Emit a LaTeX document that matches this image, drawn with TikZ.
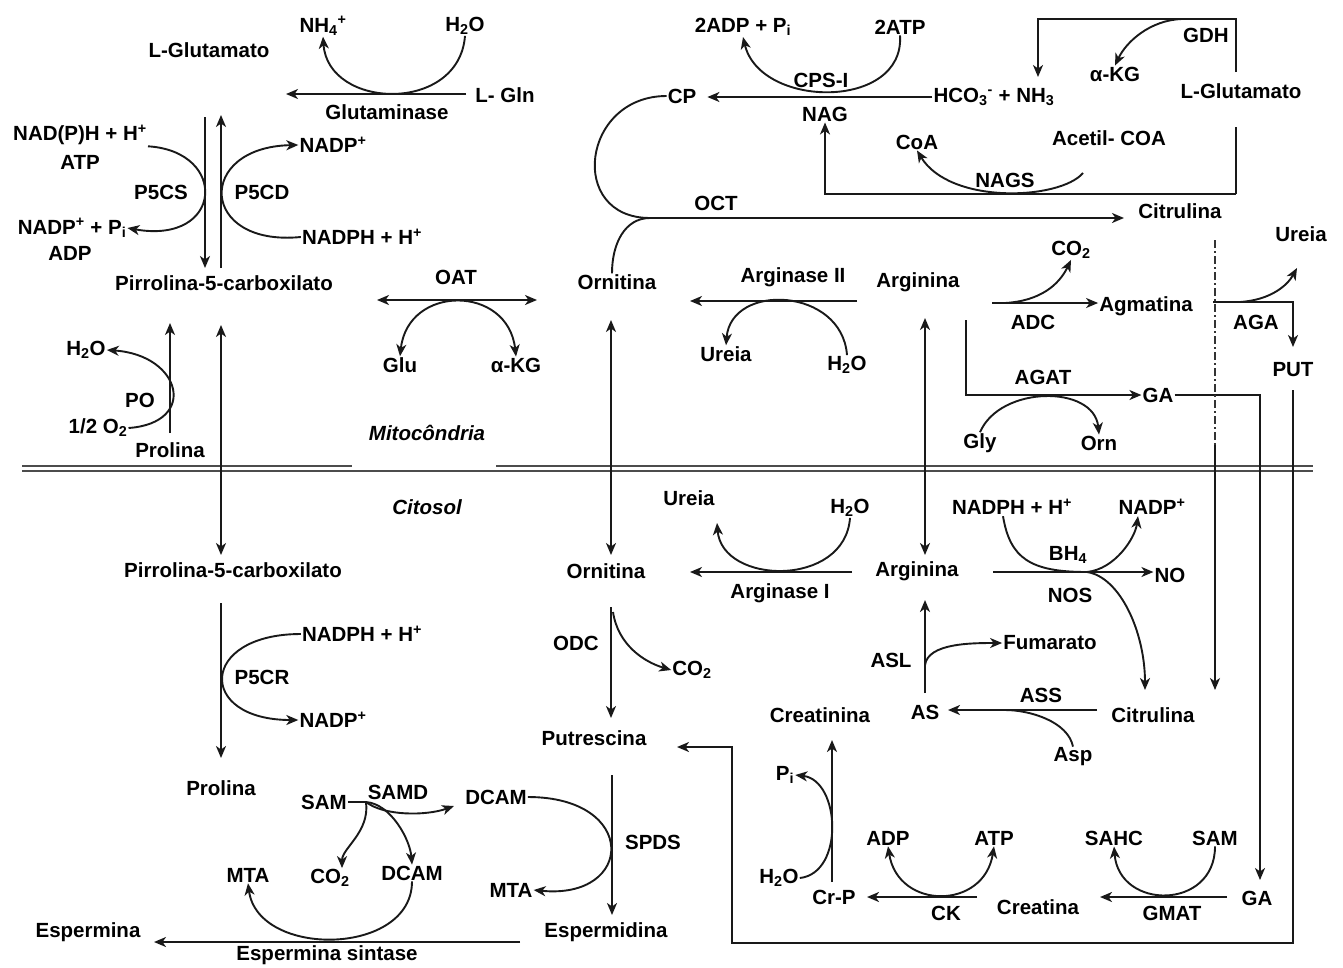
\documentclass[tikz,border=0pt]{standalone}
\usepackage{fontspec}
\setmainfont{Liberation Sans}
\usetikzlibrary{arrows.meta}
\newcommand{\dfont}{\bfseries\fontsize{20.5}{24}\selectfont}

\begin{document}
\begin{tikzpicture}[x=1pt,y=-1pt,
  met/.style={font=\dfont,inner sep=1pt},
  cmp/.style={font={\dfont\itshape},inner sep=1pt},
  ln/.style={line width=1.9pt,black!90},
  arr/.style={ln,-{Stealth[length=12pt,width=10pt,inset=3.5pt]}},
  darr/.style={ln,{Stealth[length=12pt,width=10pt,inset=3.5pt]}-{Stealth[length=12pt,width=10pt,inset=3.5pt]}}
]
  \useasboundingbox (0,0) rectangle (1343,967);

  % membrana
  \draw[line width=1.6pt,black!70] (22,466) -- (352,466) (496,466) -- (1313,466);
  \draw[line width=1.6pt,black!70] (22,471) -- (1313,471);

  % pontos livres
  \coordinate (glnS) at (466,94);      \coordinate (gluEnd) at (286,94);
  \coordinate (p5csTop) at (205,117);  \coordinate (p5csBot) at (205,268);
  \coordinate (p5cdBot) at (221,268);  \coordinate (p5cdTop) at (221,115);
  \coordinate (oatL) at (377,300);     \coordinate (oatR) at (537,300);
  \coordinate (poBot) at (170,433);    \coordinate (poTop) at (170,323);
  \coordinate (p5cTop) at (221,325);   \coordinate (p5cBot) at (221,555);
  \coordinate (octJ) at (650,218);     \coordinate (citArr) at (1124,218);
  \coordinate (boxBR) at (1236,194);   \coordinate (boxR1) at (1236,127);
  \coordinate (boxR2) at (1236,72);    \coordinate (boxTL) at (1038,19);
  \coordinate (hcoArr) at (1038,77);   \coordinate (gdhJ) at (1182,19);
  \coordinate (nagsJ) at (1083,173);
  \coordinate (a2R) at (857,301);      \coordinate (a2L) at (690,301);
  \coordinate (ornUp) at (611,320);    \coordinate (ornDn) at (611,555);
  \coordinate (argUp) at (925,318);    \coordinate (argDn) at (925,555);
  \coordinate (adcS) at (992,303);     \coordinate (adcJ) at (1005,303);
  \coordinate (agatS) at (966,320);
  \coordinate (agaS) at (1213,302);    \coordinate (agaJ) at (1240,302);
  \coordinate (agaTip) at (1297,268);  \coordinate (putArr) at (1293,347);
  \coordinate (gaArr) at (1260,880);
  \coordinate (citDash) at (1215,240); \coordinate (citMid) at (1215,445);
  \coordinate (citEnd) at (1215,690);
  \coordinate (putTop) at (1293,390);  \coordinate (boxBL) at (732,943);
  \coordinate (putrArr) at (677,747);
  \coordinate (p5crTop) at (221,603);  \coordinate (p5crBot) at (221,758);
  \coordinate (a1R) at (852,572);      \coordinate (a1L) at (690,572);
  \coordinate (ureaTip) at (717,523);
  \coordinate (odcTop) at (611,607);   \coordinate (odcBot) at (611,718);
  \coordinate (odcJ) at (613,612);
  \coordinate (nosS) at (993,572);     \coordinate (nosJ) at (1087,572);
  \coordinate (citTip) at (1145,690);
  \coordinate (aslBot) at (925,693);   \coordinate (aslTop) at (925,600);
  \coordinate (aslJ) at (925,665);
  \coordinate (assR) at (1097,710);    \coordinate (assL) at (948,710);
  \coordinate (assJ) at (1005,710);
  \coordinate (crBot) at (832,882);    \coordinate (crTop) at (832,740);
  \coordinate (ckR) at (977,897);      \coordinate (ckL) at (867,897);
  \coordinate (gmR) at (1227,897);     \coordinate (gmL) at (1100,897);
  \coordinate (samJ) at (366,802);     \coordinate (dcamTip) at (454,806);
  \coordinate (spdsTop) at (612,775);  \coordinate (spdsBot) at (612,915);
  \coordinate (spsynR) at (520,942);   \coordinate (spsynL) at (154,942);

  % mitocondria, prolina
  \node[met] (gluL) at (209,50) {L-Glutamato};
  \node[met] (nh4) at (323,26) {NH\textsubscript{4}\textsuperscript{+}};
  \node[met] (h2oA) at (465,26) {H\textsubscript{2}O};
  \node[met] (gln) at (505,95) {L- Gln};
  \node[met] (glnase) at (387,112) {Glutaminase};
  \node[met] (nadphA) at (80,135) {NAD(P)H + H\textsuperscript{+}};
  \node[met] (atpA) at (80,162) {ATP};
  \node[met] (p5cs) at (161,192) {P5CS};
  \node[met] (nadpA) at (72,228) {NADP\textsuperscript{+} + P\textsubscript{i}};
  \node[met] (adpA) at (70,253) {ADP};
  \node[met] (nadpB) at (333,145) {NADP\textsuperscript{+}};
  \node[met] (p5cd) at (262,192) {P5CD};
  \node[met] (nadphB) at (362,237) {NADPH + H\textsuperscript{+}};
  \node[met] (p5cM) at (224,283) {Pirrolina-5-carboxilato};
  \node[met] (oat) at (456,277) {OAT};
  \node[met] (glu) at (400,365) {Glu};
  \node[met] (akgA) at (516,365) {α-KG};
  \node[met] (h2oB) at (86,350) {H\textsubscript{2}O};
  \node[met] (po) at (140,400) {PO};
  \node[met] (o2) at (98,428) {1/2 O\textsubscript{2}};
  \node[cmp] (mito) at (427,433) {Mitocôndria};
  \node[cmp] (citosol) at (427,507) {Citosol};

  % mitocondria, ciclo
  \node[met] (cp) at (682,96) {CP};
  \node[met] (adp2) at (743,27) {2ADP + P\textsubscript{i}};
  \node[met] (atp2) at (900,27) {2ATP};
  \node[met] (cps) at (821,80) {CPS-I};
  \node[met] (nag) at (825,114) {NAG};
  \node[met] (hco3) at (994,97) {HCO\textsubscript{3}\textsuperscript{-} + NH\textsubscript{3}};
  \node[met] (coa) at (917,142) {CoA};
  \node[met] (nags) at (1005,180) {NAGS};
  \node[met] (acoa) at (1109,138) {Acetil- COA};
  \node[met] (akgB) at (1115,74) {α-KG};
  \node[met] (gdh) at (1206,35) {GDH};
  \node[met] (gluR) at (1241,91) {L-Glutamato};
  \node[met] (oct) at (716,203) {OCT};
  \node[met] (citM) at (1180,211) {Citrulina};
  \node[met] (ureaR) at (1301,234) {Ureia};
  \node[met] (ornM) at (617,282) {Ornitina};
  \node[met] (argase2) at (793,277) {Arginase II};
  \node[met] (argM) at (918,282) {Arginina};
  \node[met] (ureaM) at (726,354) {Ureia};
  \node[met] (h2oC) at (847,365) {H\textsubscript{2}O};
  \node[met] (co2A) at (1071,250) {CO\textsubscript{2}};
  \node[met] (adc) at (1033,322) {ADC};
  \node[met] (agm) at (1146,306) {Agmatina};
  \node[met] (aga) at (1256,322) {AGA};
  \node[met] (put) at (1293,370) {PUT};
  \node[met] (agat) at (1043,377) {AGAT};
  \node[met] (gaM) at (1158,395) {GA};
  \node[met] (gly) at (980,443) {Gly};
  \node[met] (orn) at (1099,443) {Orn};

  % citosol
  \node[met] (p5cC) at (233,570) {Pirrolina-5-carboxilato};
  \node[met] (nadphC) at (362,634) {NADPH + H\textsuperscript{+}};
  \node[met] (p5cr) at (262,677) {P5CR};
  \node[met] (nadpC) at (333,720) {NADP\textsuperscript{+}};
  \node[met] (proC) at (221,788) {Prolina};
  \node[met] (sam) at (324,802) {SAM};
  \node[met] (samd) at (398,792) {SAMD};
  \node[met] (dcamA) at (496,797) {DCAM};
  \node[met] (mtaA) at (248,875) {MTA};
  \node[met] (co2C) at (330,878) {CO\textsubscript{2}};
  \node[met] (dcamB) at (412,873) {DCAM};
  \node[met] (spds) at (653,842) {SPDS};
  \node[met] (mtaB) at (511,890) {MTA};
  \node[met] (spmd) at (606,932) {Espermidina};
  \node[met] (spm) at (88,932) {Espermina};
  \node[met] (spsyn) at (327,955) {Espermina sintase};
  \node[met] (ureaC) at (689,498) {Ureia};
  \node[met] (h2oD) at (850,508) {H\textsubscript{2}O};
  \node[met] (ornC) at (606,571) {Ornitina};
  \node[met] (argase1) at (780,593) {Arginase I};
  \node[met] (argC) at (917,571) {Arginina};
  \node[met] (odc) at (576,643) {ODC};
  \node[met] (co2B) at (692,670) {CO\textsubscript{2}};
  \node[met] (putr) at (594,738) {Putrescina};
  \node[met] (nadphD) at (1012,507) {NADPH + H\textsuperscript{+}};
  \node[met] (nadpD) at (1152,507) {NADP\textsuperscript{+}};
  \node[met] (bh4) at (1068,555) {BH\textsubscript{4}};
  \node[met] (nos) at (1070,595) {NOS};
  \node[met] (no) at (1170,575) {NO};
  \node[met] (fum) at (1050,643) {Fumarato};
  \node[met] (asl) at (891,660) {ASL};
  \node[met] (asucc) at (925,712) {AS};
  \node[met] (ass) at (1041,695) {ASS};
  \node[met] (citC) at (1153,715) {Citrulina};
  \node[met] (asp) at (1073,757) {Asp};
  \node[met] (creat) at (820,715) {Creatinina};
  \node[met] (pi) at (785,775) {P\textsubscript{i}};
  \node[met] (h2oE) at (779,878) {H\textsubscript{2}O};
  \node[met] (crp) at (834,897) {Cr-P};
  \node[met] (adpB) at (888,838) {ADP};
  \node[met] (atpB) at (994,838) {ATP};
  \node[met] (ck) at (946,913) {CK};
  \node[met] (cre) at (1038,907) {Creatina};
  \node[met] (sahc) at (1114,838) {SAHC};
  \node[met] (samB) at (1215,838) {SAM};
  \node[met] (gmat) at (1172,913) {GMAT};
  \node[met] (gaC) at (1257,898) {GA};

  % glutaminase
  \draw[arr] (glnS) -- (gluEnd);
  \draw[arr] (h2oA.south) .. controls +(-6,78) and +(5,73) .. (nh4.south);
  % P5CS / P5CD
  \draw[arr] (p5csTop) -- (p5csBot);
  \draw[arr] (p5cdBot) -- (p5cdTop);
  \draw[arr] (nadphA.south east) .. controls +(81,5) and +(96,17) .. (nadpA.east);
  \draw[arr] (nadphB.west) .. controls +(-102,10) and +(-103,2) .. (nadpB.west);
  % OAT
  \draw[darr] (oatL) -- (oatR);
  \draw[darr] (glu.north) .. controls +(8,-72) and +(-8,-72) .. (akgA.north);
  % PO
  \draw[arr] (poBot) -- (poTop);
  \draw[arr] (o2.east) .. controls +(70,-5) and +(75,5) .. (h2oB.east);
  \node[met,fill=white,inner sep=3pt] (proM) at (170,450) {Prolina};
  \draw[darr] (p5cTop) -- (p5cBot);

  % CPS-I, NAGS, GDH
  \draw[arr] (hco3.west) -- ++(-225,0);
  \draw[arr] (atp2.south) .. controls +(5,75) and +(17,72) .. (adp2.south);
  \draw[arr] (boxBR) -| (nag.south);
  \draw[ln] (boxBR) -- (boxR1);
  \draw[arr] (boxR2) |- (boxTL) -- (hcoArr);
  \draw[arr] (gdhJ) .. controls (1150,20) and (1126,42) .. (akgB.north);
  \draw[arr] (nagsJ) .. controls (1060,200) and (950,205) .. (coa.south);
  % OCT
  \draw[arr] (cp.west) .. controls +(-85,0) and +(-83,0) .. (octJ) -- (citArr);
  \draw[ln] ([xshift=-5pt]ornM.north) .. controls +(0,-30) and +(-25,0) .. (octJ);
  % arginase II
  \draw[arr] (a2R) -- (a2L);
  \draw[arr] (h2oC.north) .. controls +(-5,-68) and +(5,-63) .. (ureaM.north);
  \draw[darr] (ornUp) -- (ornDn);
  \draw[darr] (argUp) -- (argDn);
  % ADC, AGAT, AGA
  \draw[arr] (adcS) -- (adcS -| agm.west);
  \draw[arr] (adcJ) .. controls +(35,-2) and +(-12,25) .. (co2A.south);
  \draw[arr] (agatS) |- (gaM.west);
  \draw[arr] (gly.north) .. controls +(20,-47) and +(-5,-50) .. (orn.north);
  \draw[arr] (agaS) -| (putArr);
  \draw[arr] (agaJ) .. controls +(30,-2) and +(-10,18) .. (agaTip);
  \draw[arr] (gaM.east) -| (gaArr);
  \draw[arr] (putTop) |- (boxBL) |- (putrArr);
  \draw[line width=1.2pt,black!80,dash pattern=on 8pt off 3pt on 2pt off 3pt] (citDash) -- (citMid);
  \draw[arr,line width=1.5pt] (citMid) -- (citEnd);

  % citosol
  \draw[arr] (p5crTop) -- (p5crBot);
  \draw[arr] (nadphC.west) .. controls +(-102,0) and +(-102,0) .. (nadpC.west);
  \draw[arr] (a1R) -- (a1L);
  \draw[arr] (h2oD.south) .. controls +(-5,70) and +(5,62) .. (ureaTip);
  \draw[arr] (odcTop) -- (odcBot);
  \draw[arr] (odcJ) .. controls +(5,33) and +(-27,-8) .. (co2B.west);
  % NOS
  \draw[arr] (nosS) -- (nosS -| no.west);
  \draw[arr] ([xshift=-9pt]nadphD.south) .. controls +(7,42) and +(-57,0) .. (nosJ) .. controls +(33,5) and +(0,-58) .. (citTip);
  \draw[arr] (nosJ) .. controls +(28,-3) and +(-3,22) .. ([xshift=-14pt]nadpD.south);
  % ASL, ASS
  \draw[arr] (aslBot) -- (aslTop);
  \draw[arr] (aslJ) .. controls +(3,-22) and +(-30,0) .. (fum.west);
  \draw[arr] (assR) -- (assL);
  \draw[ln] (asp.north) .. controls +(-5,-25) and +(25,0) .. (assJ);
  % creatina
  \draw[arr] (crBot) -- (crTop);
  \draw[arr] (h2oE.east) .. controls +(45,-5) and +(45,5) .. (pi.east);
  \draw[arr] (ckR) -- (ckL);
  \draw[darr] (adpB.south) .. controls +(10,64) and +(-10,64) .. (atpB.south);
  \draw[arr] (gmR) -- (gmL);
  \draw[arr] (samB.south) .. controls +(0,64) and +(5,64) .. (sahc.south);
  % poliaminas
  \draw[ln] (sam.east) -- (samJ);
  \draw[arr] (samJ) .. controls +(18,14) and +(-28,10) .. (dcamTip);
  \draw[arr] (samJ) .. controls +(25,2) and +(-2,-25) .. (dcamB.north);
  \draw[arr] (samJ) .. controls +(4,30) and +(0,-20) .. ([xshift=12pt]co2C.north);
  \draw[arr] (spdsTop) -- (spdsBot);
  \draw[arr] (dcamA.east) .. controls +(111,0) and +(101,10) .. (mtaB.east);
  \draw[arr] (spsynR) -- (spsynL);
  \draw[arr] (dcamB.south) .. controls +(0,75) and +(10,75) .. (mtaA.south);
\end{tikzpicture}
\end{document}
